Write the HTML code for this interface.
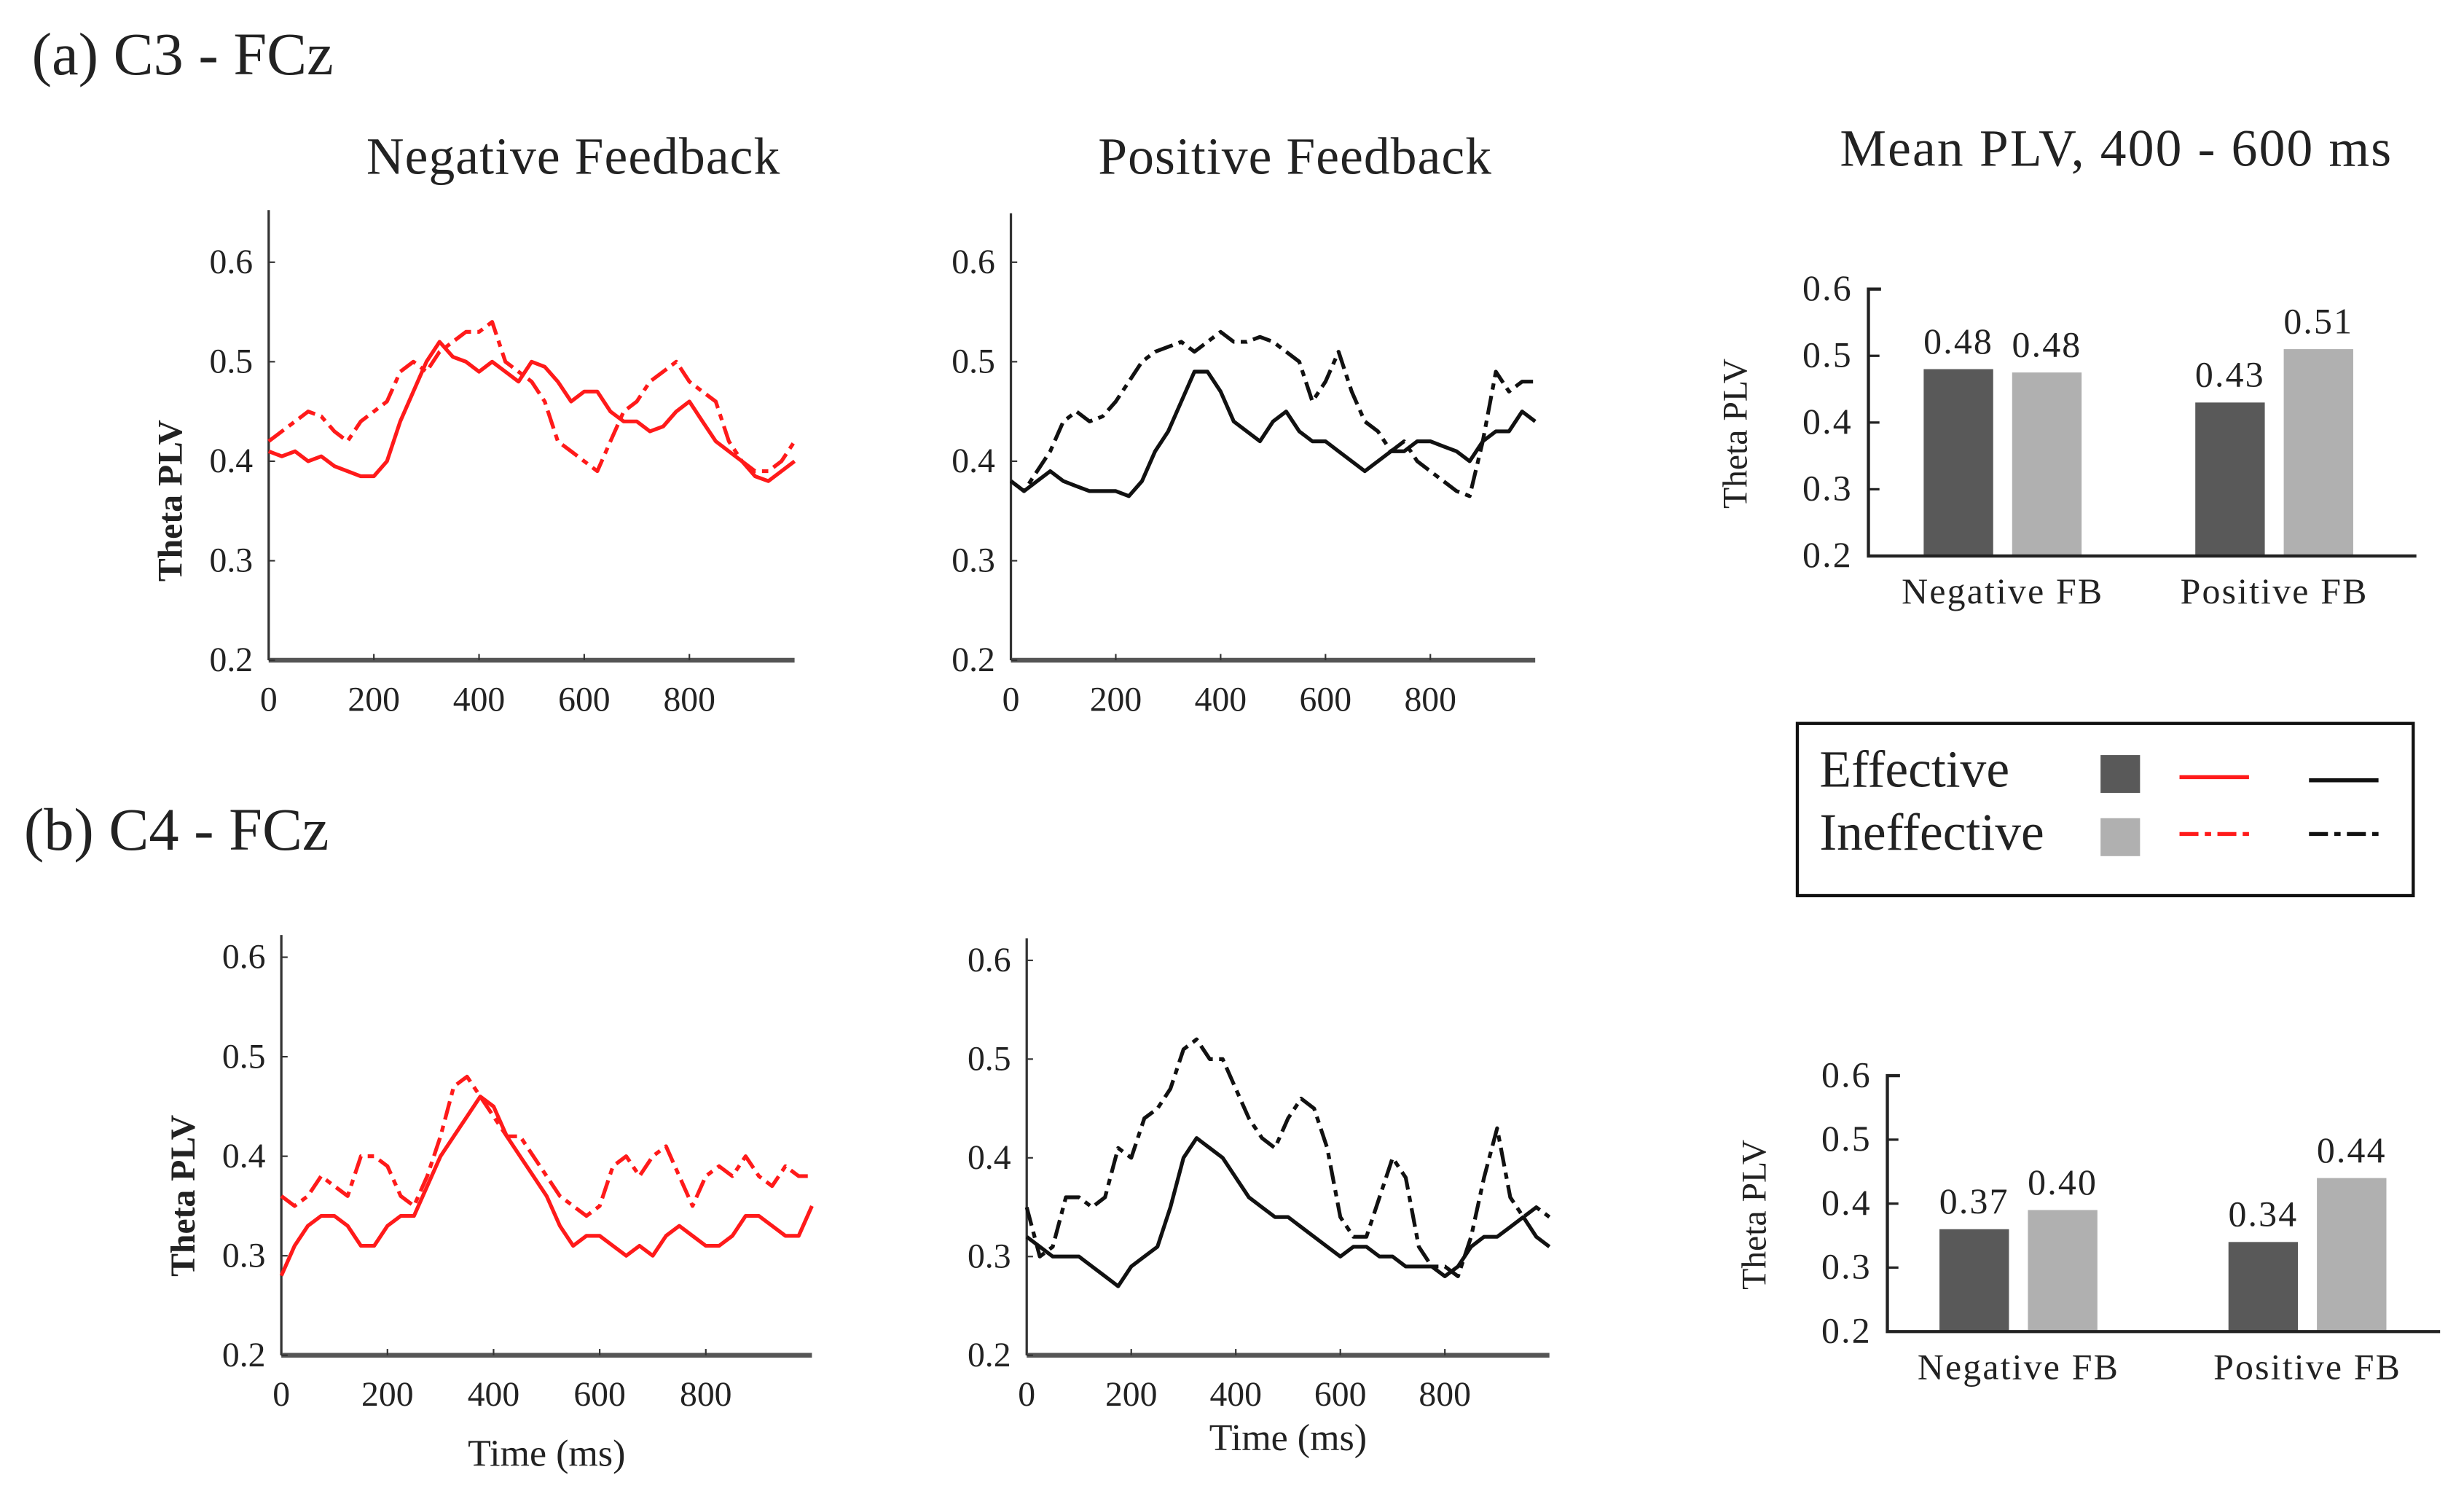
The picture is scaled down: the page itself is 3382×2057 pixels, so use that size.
<!DOCTYPE html>
<html><head><meta charset="utf-8"><style>
html,body{margin:0;padding:0;background:#fff;}
svg{display:block;}
text{font-family:"Liberation Serif",serif;fill:#222;}
</style></head><body>
<svg id="fig" width="3382" height="2057" viewBox="0 0 1560 949" xmlns="http://www.w3.org/2000/svg">
<text x="20" y="47" font-size="38">(a) C3 - FCz</text>
<text x="15" y="538" font-size="38">(b) C4 - FCz</text>
<text x="363" y="110" font-size="33" letter-spacing="0.5" text-anchor="middle">Negative Feedback</text>
<text x="820" y="110" font-size="33" letter-spacing="0.5" text-anchor="middle">Positive Feedback</text>
<text x="1340" y="105" font-size="33" letter-spacing="1" text-anchor="middle">Mean PLV, 400 - 600 ms</text>
<g id="legend">
<rect x="1138" y="458" width="390" height="109" fill="none" stroke="#111" stroke-width="2"/>
<text x="1152" y="498" font-size="33">Effective</text>
<text x="1152" y="538" font-size="33">Ineffective</text>
<rect x="1330" y="478" width="25" height="24" fill="#595959"/>
<rect x="1330" y="518" width="25" height="24" fill="#b0b0b0"/>
<line x1="1380" y1="492" x2="1424" y2="492" stroke="#ff1a1a" stroke-width="2.5"/>
<line x1="1380" y1="528" x2="1424" y2="528" stroke="#ff1a1a" stroke-width="2.5" stroke-dasharray="12,4,4,4"/>
<line x1="1462" y1="494" x2="1506" y2="494" stroke="#111" stroke-width="2.5"/>
<line x1="1462" y1="528" x2="1506" y2="528" stroke="#111" stroke-width="2.5" stroke-dasharray="12,4,4,4"/>
</g>
</svg>
<script>
const times=[0,25,50,75,100,125,150,175,200,225,250,275,300,325,350,375,400,425,450,475,500,525,550,575,600,625,650,675,700,725,750,775,800,825,850,875,900,925,950,975,1000];
const aNegEff=[0.41,0.405,0.41,0.40,0.405,0.395,0.39,0.385,0.385,0.40,0.44,0.47,0.50,0.52,0.505,0.50,0.49,0.50,0.49,0.48,0.50,0.495,0.48,0.46,0.47,0.47,0.45,0.44,0.44,0.43,0.435,0.45,0.46,0.44,0.42,0.41,0.40,0.385,0.38,0.39,0.40];
const aNegIneff=[0.42,0.43,0.44,0.45,0.445,0.43,0.42,0.44,0.45,0.46,0.49,0.50,0.49,0.51,0.52,0.53,0.53,0.54,0.50,0.49,0.48,0.46,0.42,0.41,0.40,0.39,0.42,0.45,0.46,0.48,0.49,0.50,0.48,0.47,0.46,0.42,0.40,0.39,0.39,0.40,0.42];
const aPosEff=[0.38,0.37,0.38,0.39,0.38,0.375,0.37,0.37,0.37,0.365,0.38,0.41,0.43,0.46,0.49,0.49,0.47,0.44,0.43,0.42,0.44,0.45,0.43,0.42,0.42,0.41,0.40,0.39,0.40,0.41,0.41,0.42,0.42,0.415,0.41,0.40,0.42,0.43,0.43,0.45,0.44];
const aPosIneff=[0.38,0.37,0.39,0.41,0.44,0.45,0.44,0.445,0.46,0.48,0.50,0.51,0.515,0.52,0.51,0.52,0.53,0.52,0.52,0.525,0.52,0.51,0.50,0.46,0.48,0.51,0.47,0.44,0.43,0.41,0.42,0.40,0.39,0.38,0.37,0.365,0.42,0.49,0.47,0.48,0.48];
const bNegEff=[0.28,0.31,0.33,0.34,0.34,0.33,0.31,0.31,0.33,0.34,0.34,0.37,0.40,0.42,0.44,0.46,0.45,0.42,0.40,0.38,0.36,0.33,0.31,0.32,0.32,0.31,0.30,0.31,0.30,0.32,0.33,0.32,0.31,0.31,0.32,0.34,0.34,0.33,0.32,0.32,0.35];
const bNegIneff=[0.36,0.35,0.36,0.38,0.37,0.36,0.40,0.40,0.39,0.36,0.35,0.38,0.42,0.47,0.48,0.46,0.44,0.42,0.42,0.40,0.38,0.36,0.35,0.34,0.35,0.39,0.40,0.38,0.40,0.41,0.38,0.35,0.38,0.39,0.38,0.40,0.38,0.37,0.39,0.38,0.38];
const bPosEff=[0.32,0.31,0.30,0.30,0.30,0.29,0.28,0.27,0.29,0.30,0.31,0.35,0.40,0.42,0.41,0.40,0.38,0.36,0.35,0.34,0.34,0.33,0.32,0.31,0.30,0.31,0.31,0.30,0.30,0.29,0.29,0.29,0.28,0.29,0.31,0.32,0.32,0.33,0.34,0.32,0.31];
const bPosIneff=[0.35,0.30,0.31,0.36,0.36,0.35,0.36,0.41,0.40,0.44,0.45,0.47,0.51,0.52,0.50,0.50,0.47,0.44,0.42,0.41,0.44,0.46,0.45,0.41,0.34,0.32,0.32,0.36,0.40,0.38,0.31,0.29,0.29,0.28,0.32,0.38,0.43,0.36,0.34,0.35,0.34];
const yTicks=[0.2,0.3,0.4,0.5,0.6];
const xTicks=[0,200,400,600,800];
const barGroups=["Negative FB","Positive FB"];
const barsAEff=[0.48,0.43];
const barsAIneff=[0.475,0.51];
const barsALabelEff=["0.48","0.43"];
const barsALabelIneff=["0.48","0.51"];
const barsBEff=[0.36,0.34];
const barsBIneff=[0.39,0.44];
const barsBLabelEff=["0.37","0.34"];
const barsBLabelIneff=["0.40","0.44"];

const NS="http://www.w3.org/2000/svg";
const svg=document.getElementById('fig');
function mk(tag,attrs,parent){const e=document.createElementNS(NS,tag);for(const k in attrs)e.setAttribute(k,attrs[k]);(parent||svg).appendChild(e);return e;}

function linePlot(name,x0,x1,yTop,y02,y06,series,color,showYLabel,xLabel){
  const g=mk('g',{});
  
  
  const sx=t=>x0+(x1-x0)*t/1000;
  const sy=v=>y02+(y06-y02)*(v-0.2)/0.4;
  const ax=mk('line',{x1:x0,y1:yTop,x2:x0,y2:y02,stroke:'#333','stroke-width':1.5},g);
  
  
  const bx=mk('line',{x1:x0,y1:y02,x2:x1,y2:y02,stroke:'#555','stroke-width':3},g);
  
  
  yTicks.forEach(v=>{
    const t=mk('text',{x:x0-10,y:sy(v)+7,'font-size':22,'text-anchor':'end'},g);
    t.textContent=v.toFixed(1);
    
    
    mk('line',{x1:x0,y1:sy(v),x2:x0+4,y2:sy(v),stroke:'#333','stroke-width':1},g);
  });
  xTicks.forEach(v=>{
    const t=mk('text',{x:sx(v),y:y02+32,'font-size':22,'text-anchor':'middle'},g);
    t.textContent=String(v);
    
    
    mk('line',{x1:sx(v),y1:y02,x2:sx(v),y2:y02-4,stroke:'#333','stroke-width':1},g);
  });
  if(showYLabel){
    const yl=mk('text',{x:0,y:0,'font-size':22,'font-weight':'bold','text-anchor':'middle',transform:`translate(${x0-55},${(y02+y06)/2+25}) rotate(-90)`},g);
    yl.textContent='Theta PLV';
    
    
  }
  if(xLabel){
    const xl=mk('text',{x:(x0+x1)/2,y:xLabel,'font-size':24,'text-anchor':'middle'},g);
    xl.textContent='Time (ms)';
    
    
  }
  series.forEach((s,i)=>{
    const d=times.map((t,j)=>(j?'L':'M')+sx(t).toFixed(1)+','+sy(s[j]).toFixed(1)).join(' ');
    const p=mk('path',{d:d,fill:'none',stroke:color,'stroke-width':2.4,'stroke-linejoin':'round'},g);
    if(i===1)p.setAttribute('stroke-dasharray','12,4,4,4');
    
    
  });
}
linePlot('c3-negative-plot',170,503,133,418,166,[aNegEff,aNegIneff],'#ff1a1a',true,null);
linePlot('c3-positive-plot',640,972,135,418,166,[aPosEff,aPosIneff],'#111',false,null);
linePlot('c4-negative-plot',178,514,592,858,606,[bNegEff,bNegIneff],'#ff1a1a',true,928);
linePlot('c4-positive-plot',650,981,594,858,608,[bPosEff,bPosIneff],'#111',false,918);

function barPlot(name,x0,x1,y02,y06,groupX,eff,ineff,lEff,lIneff){
  const g=mk('g',{});
  
  
  const sy=v=>y02+(y06-y02)*(v-0.2)/0.4;
  const bw=44;
  groupX.forEach((cx,i)=>{
    const r1=mk('rect',{x:cx-bw-6,y:sy(eff[i]),width:bw,height:y02-sy(eff[i]),fill:'#595959'},g);
    
    
    const r2=mk('rect',{x:cx+6,y:sy(ineff[i]),width:bw,height:y02-sy(ineff[i]),fill:'#b0b0b0'},g);
    
    
    const t1=mk('text',{x:cx-bw/2-6,y:sy(eff[i])-10,'font-size':23,'letter-spacing':1,'text-anchor':'middle'},g);
    t1.textContent=lEff[i];
    
    
    const t2=mk('text',{x:cx+bw/2+6,y:sy(ineff[i])-10,'font-size':23,'letter-spacing':1,'text-anchor':'middle'},g);
    t2.textContent=lIneff[i];
    
    
    const gl=mk('text',{x:cx,y:y02+30,'font-size':23,'letter-spacing':1,'text-anchor':'middle'},g);
    gl.textContent=barGroups[i];
    
    
  });
  mk('polyline',{points:`${x0+8},${y06} ${x0},${y06} ${x0},${y02} ${x1},${y02}`,fill:'none',stroke:'#222','stroke-width':2},g);
  yTicks.forEach(v=>{
    mk('line',{x1:x0,y1:sy(v),x2:x0+7,y2:sy(v),stroke:'#222','stroke-width':1.5},g);
    const t=mk('text',{x:x0-10,y:sy(v)+7,'font-size':23,'letter-spacing':1,'text-anchor':'end'},g);
    t.textContent=v.toFixed(1);
    
    
  });
  const yl=mk('text',{x:0,y:0,'font-size':22,'text-anchor':'middle',transform:`translate(${x0-77},${(y02+y06)/2+7}) rotate(-90)`},g);
  yl.textContent='Theta PLV';
  
  
}
barPlot('c3-bar-chart',1183,1530,352,183,[1268,1440],barsAEff,barsAIneff,barsALabelEff,barsALabelIneff);
barPlot('c4-bar-chart',1195,1545,843,681,[1278,1461],barsBEff,barsBIneff,barsBLabelEff,barsBLabelIneff);
</script>
</body></html>
